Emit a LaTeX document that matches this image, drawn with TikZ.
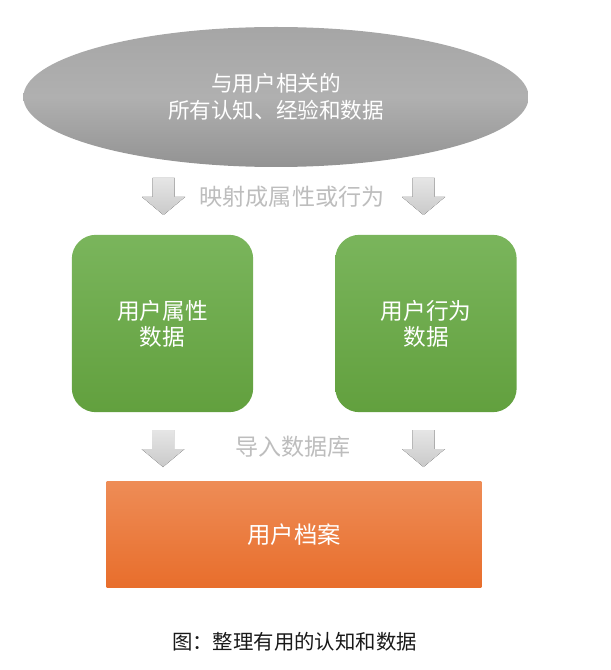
\documentclass[tikz,border=0pt]{standalone}
\usepackage{fontspec}
\setmainfont{Noto Sans CJK SC}
\usetikzlibrary{shapes.geometric}
\definecolor{txtgray}{HTML}{BDBDBD}
\tikzset{
  px/.style={x=0.75pt,y=-0.75pt},
  cloud/.style={ellipse,minimum width=379pt,minimum height=105pt,inner sep=0pt,
    top color=gray!70,bottom color=gray!85,middle color=gray!62,draw=none,text=white,
    align=center,font=\fontsize{16.2pt}{20.5pt}\selectfont},
  greenbox/.style={rectangle,rounded corners=18pt,minimum width=136pt,minimum height=133pt,
    top color={rgb,255:red,122;green,181;blue,92},bottom color={rgb,255:red,98;green,160;blue,62},
    draw=none,text=white,align=center,font=\fontsize{17pt}{19.5pt}\selectfont},
  orangebox/.style={rectangle,minimum width=281pt,minimum height=79pt,
    top color={rgb,255:red,238;green,140;blue,86},bottom color={rgb,255:red,232;green,110;blue,44},
    draw=none,text=white,font=\fontsize{17.5pt}{20pt}\selectfont},
  flowlabel/.style={text=txtgray,font=\fontsize{17.3pt}{20pt}\selectfont},
  caption/.style={text=black!90,font=\fontsize{15.3pt}{18pt}\selectfont},
  blockarrow/.style={top color=gray!20,bottom color=gray!42,draw=none},
}
\newcommand{\blockarr}[2]{%
  \fill[blockarrow] (#1-11,#2) -- (#1+11,#2) -- (#1+11,#2+19) -- (#1+21.5,#2+19)
    -- (#1,#2+37) -- (#1-21.5,#2+19) -- (#1-11,#2+19) -- cycle;}
\begin{document}
\begin{tikzpicture}[px]
\useasboundingbox (0,0) rectangle (610,670);
\node[cloud] (top) at (276,97) {与用户相关的\\所有认知、经验和数据};
\blockarr{163.5}{178}
\blockarr{423.5}{178}
\node[flowlabel] (map) at (292,197) {映射成属性或行为};
\node[greenbox] (attr) at (162.5,323.5) {用户属性\\数据};
\node[greenbox] (beh) at (426,323.5) {用户行为\\数据};
\blockarr{163}{430}
\blockarr{423.5}{430}
\node[flowlabel] (imp) at (293,447) {导入数据库};
\node[orangebox] (prof) at (294,534.5) {用户档案};
\node[caption] (cap) at (294.5,642) {图：整理有用的认知和数据};
\end{tikzpicture}
\end{document}
